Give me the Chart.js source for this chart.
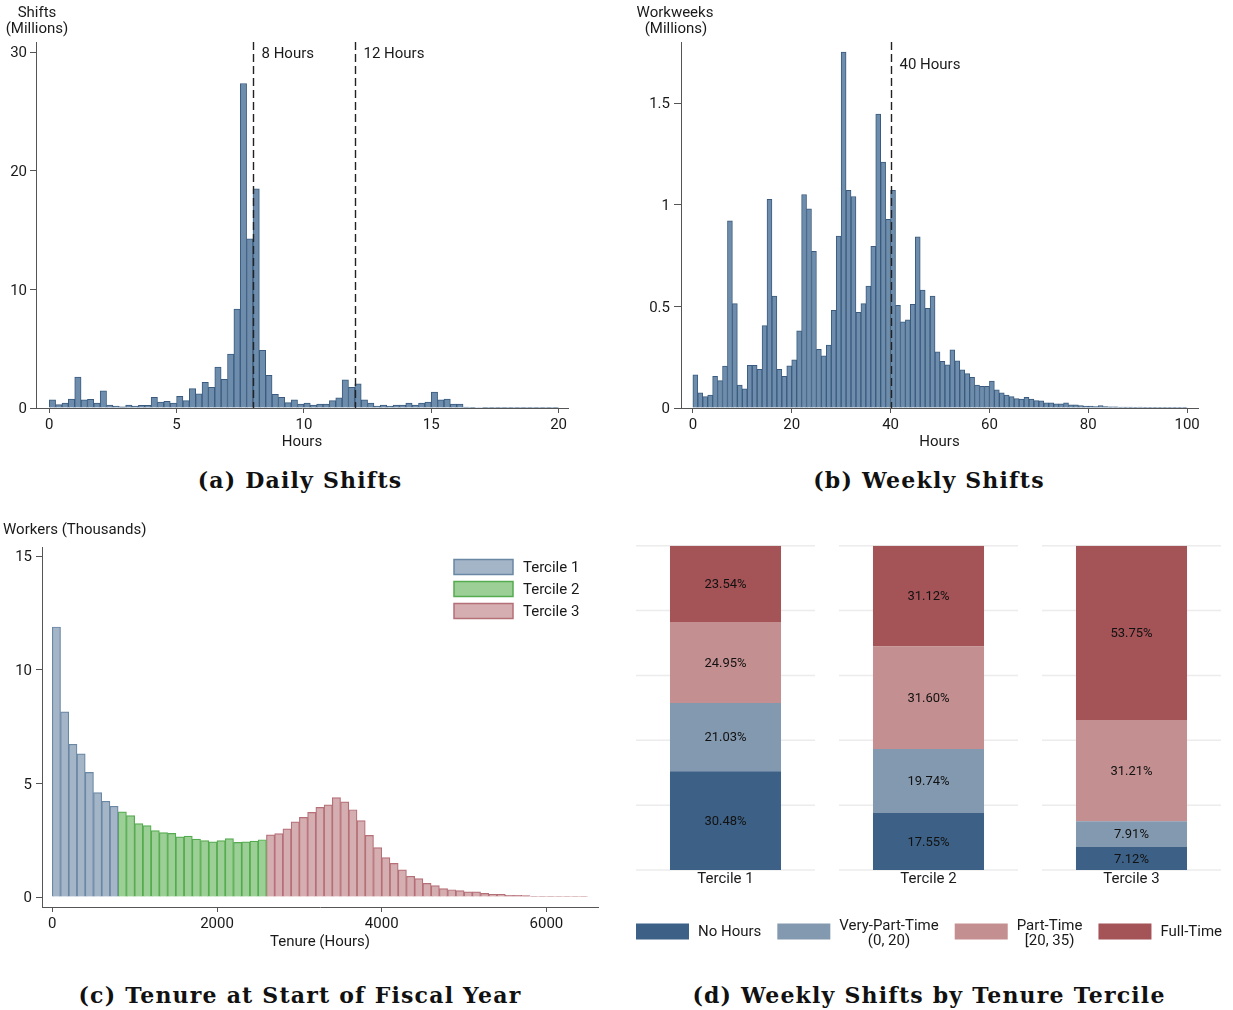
<!DOCTYPE html>
<html>
<head>
<meta charset="utf-8">
<title>Shifts and Tenure</title>
<script src="https://cdn.jsdelivr.net/npm/chart.js@4.4.1/dist/chart.umd.min.js"></script>
<style>
  body { margin: 0; background: #fff; }
  #page { position: relative; width: 1233px; height: 1010px; overflow: hidden; }
  canvas { position: absolute; }
  .cap {
    position: absolute; width: 600px; line-height: 26px; text-align: center;
    font-family: 'DejaVu Serif', serif; font-weight: bold; font-size: 22px;
    letter-spacing: 1.2px; color: #111;
  }
</style>
</head>
<body>
<div id="page">
  <canvas id="dailyChart" style="left:0;top:0" width="600" height="460"></canvas>
  <canvas id="weeklyChart" style="left:620px;top:0" width="613" height="460"></canvas>
  <canvas id="tenureChart" style="left:0;top:500px" width="615" height="460"></canvas>
  <canvas id="tercileChart" style="left:624px;top:500px" width="609" height="470"></canvas>
  <div class="cap" style="left:0;top:467px">(a) Daily Shifts</div>
  <div class="cap" style="left:629px;top:467px">(b) Weekly Shifts</div>
  <div class="cap" style="left:0;top:982px">(c) Tenure at Start of Fiscal Year</div>
  <div class="cap" style="left:629px;top:982px">(d) Weekly Shifts by Tenure Tercile</div>
</div>

<script>
// Panel (a): daily shifts, 0.25 hour bins from 0 to 20 (millions)
const dailyBinWidth = 0.25;
const dailyShifts = [
  0.68, 0.28, 0.42, 0.76, 2.6, 0.68, 0.73, 0.42, 1.44, 0.25,
  0.17, 0.1, 0.25, 0.17, 0.22, 0.22, 0.9, 0.5, 0.56, 0.42,
  0.98, 0.62, 1.63, 1.2, 2.17, 1.75, 3.44, 2.42, 4.54, 8.34,
  27.35, 14.25, 18.48, 4.87, 2.76, 1.15, 0.9, 0.45, 0.68, 0.34,
  0.42, 0.25, 0.34, 0.34, 0.62, 0.85, 2.37, 1.75, 2.03, 0.68,
  0.42, 0.17, 0.25, 0.17, 0.25, 0.25, 0.42, 0.25, 0.42, 0.5,
  1.35, 0.68, 0.76, 0.34, 0.34, 0.08, 0.05, 0.04, 0.03, 0.03,
  0.03, 0.02, 0.02, 0.02, 0.02, 0.02, 0.01, 0.01, 0.01, 0.01
];
const dailyXTicks = [0, 5, 10, 15, 20];
const dailyYTicks = [0, 10, 20, 30];
const dailyMarkers = [8, 12];
const dailyMarkerLabels = ['8 Hours', '12 Hours'];

// Panel (b): weekly shifts, 1 hour bins from 0 to 100 (millions)
const weeklyBinWidth = 1;
const weeklyShifts = [
  0.163, 0.074, 0.056, 0.064, 0.156, 0.135, 0.206, 0.92, 0.513, 0.113,
  0.094, 0.21, 0.21, 0.19, 0.405, 1.026, 0.55, 0.19, 0.156, 0.207,
  0.237, 0.38, 1.05, 0.98, 0.77, 0.288, 0.257, 0.31, 0.48, 0.845,
  1.75, 1.07, 1.04, 0.47, 0.513, 0.6, 0.795, 1.446, 1.21, 0.928,
  1.07, 0.505, 0.424, 0.434, 0.51, 0.842, 0.58, 0.49, 0.55, 0.276,
  0.229, 0.212, 0.286, 0.232, 0.188, 0.169, 0.151, 0.113, 0.107, 0.107,
  0.133, 0.089, 0.074, 0.064, 0.056, 0.046, 0.044, 0.053, 0.044, 0.036,
  0.035, 0.026, 0.025, 0.02, 0.02, 0.025, 0.016, 0.015, 0.012, 0.01,
  0.01, 0.007, 0.012, 0.007, 0.006, 0.006, 0.005, 0.004, 0.004, 0.003,
  0.005, 0.003, 0.003, 0.002, 0.002, 0.002, 0.002, 0.002, 0.001, 0.001
];
const weeklyXTicks = [0, 20, 40, 60, 80, 100];
const weeklyYTicks = [0, 0.5, 1, 1.5];
const weeklyMarkers = [40];
const weeklyMarkerLabels = ['40 Hours'];

// Panel (c): tenure at start of fiscal year, 100 hour bins (thousands of workers)
const tenureBinWidth = 100;
const tercileNames = ['Tercile 1', 'Tercile 2', 'Tercile 3'];
const tercileStarts = [0, 800, 2600];
const tenureTercile1 = [11.88, 8.15, 6.72, 6.3, 5.48, 4.59, 4.21, 3.99];
const tenureTercile2 = [3.75, 3.58, 3.23, 3.14, 2.92, 2.83, 2.8, 2.65, 2.68, 2.55,
  2.48, 2.43, 2.48, 2.57, 2.4, 2.43, 2.46, 2.52];
const tenureTercile3 = [2.73, 2.79, 3.0, 3.31, 3.5, 3.72, 3.94, 4.05, 4.37, 4.19,
  3.84, 3.36, 2.71, 2.17, 1.73, 1.48, 1.19, 0.91, 0.81, 0.6,
  0.5, 0.37, 0.32, 0.28, 0.23, 0.23, 0.16, 0.12, 0.12, 0.07,
  0.07, 0.06, 0.03, 0.03, 0.03, 0.02, 0.02, 0.02, 0.02];
const tenureXTicks = [0, 2000, 4000, 6000];
const tenureYTicks = [0, 5, 10, 15];

// Panel (d): weekly hours category shares by tenure tercile (percent)
const hourGroups = ['No Hours', 'Very-Part-Time\n(0, 20)', 'Part-Time\n[20, 35)', 'Full-Time'];
const shareNoHours = [30.48, 17.55, 7.12];
const shareVeryPartTime = [21.03, 19.74, 7.91];
const sharePartTime = [24.95, 31.60, 31.21];
const shareFullTime = [23.54, 31.12, 53.75];
const shareGrid = [0, 20, 40, 60, 80, 100];

// Styling
const axisGray = '#555555';
const textColor = '#1a1a1a';
const histFill = '#6e8dac';
const histBorder = '#3a5b7e';
const tercileFill = ['#a4b5c7', '#9bcf96', '#d5aeb1'];
const tercileBorder = ['#6a87a4', '#55ab4f', '#b56f77'];
const groupColors = ['#3d6186', '#8399b0', '#c48f90', '#a45357'];

Chart.defaults.font.family = "Roboto, 'Noto Sans', sans-serif";
Chart.defaults.font.size = 15;
Chart.defaults.color = textColor;

const fixedTicks = list => scale => { scale.ticks = list.map(v => ({ value: v })); };

function histogramScales(o) {
  return {
    x: {
      type: 'linear', min: o.xMin, max: o.xMax, offset: false,
      afterFit: s => { s.height = o.xHeight; },
      afterBuildTicks: fixedTicks(o.xTicks),
      grid: { drawOnChartArea: false, offset: false, tickLength: 5, color: axisGray },
      border: { color: axisGray, width: 1 },
      ticks: { padding: 3, callback: v => String(v), maxRotation: 0 },
      title: { display: true, text: o.xTitle, padding: { top: 0, bottom: 9 } }
    },
    y: {
      min: o.yMin, max: o.yMax,
      afterFit: s => { s.width = o.yWidth; },
      afterBuildTicks: fixedTicks(o.yTicks),
      grid: { drawOnChartArea: false, tickLength: o.yTick, color: axisGray },
      border: { color: axisGray, width: 1 },
      ticks: { padding: o.yPad, labelOffset: 1.5, callback: v => String(v) }
    }
  };
}

// Text placed around the plot (axis headings above the y axis)
function notesPlugin(notes) {
  return {
    id: 'notes',
    afterDraw(chart) {
      const { ctx, chartArea } = chart;
      ctx.save();
      ctx.fillStyle = textColor;
      ctx.font = "15px Roboto, 'Noto Sans', sans-serif";
      ctx.textBaseline = 'middle';
      notes.forEach(n => {
        ctx.textAlign = n.align || 'center';
        const x = n.abs ? n.dx : chartArea.left + n.dx;
        ctx.fillText(n.text, x, chartArea.top + n.dy);
      });
      ctx.restore();
    }
  };
}

// Dashed reference lines at given hours
function markersPlugin(values, labels, labelDy) {
  return {
    id: 'markers',
    afterDatasetsDraw(chart) {
      const { ctx, chartArea, scales: { x } } = chart;
      ctx.save();
      values.forEach((v, i) => {
        const px = Math.round(x.getPixelForValue(v)) + 0.5;
        ctx.strokeStyle = '#222';
        ctx.lineWidth = 1.4;
        ctx.setLineDash([8, 4]);
        ctx.beginPath();
        ctx.moveTo(px, chartArea.top);
        ctx.lineTo(px, chartArea.bottom);
        ctx.stroke();
        ctx.setLineDash([]);
        ctx.fillStyle = textColor;
        ctx.font = "15px Roboto, 'Noto Sans', sans-serif";
        ctx.textAlign = 'left';
        ctx.textBaseline = 'middle';
        ctx.fillText(labels[i], px + 8, chartArea.top + labelDy);
      });
      ctx.restore();
    }
  };
}

const histDataset = (binWidth, values) => ({
  data: values.map((v, i) => ({ x: i * binWidth + binWidth / 2, y: v })),
  backgroundColor: histFill,
  borderColor: histBorder,
  borderWidth: 1,
  barPercentage: 1,
  categoryPercentage: 1
});

const baseOptions = {
  responsive: false,
  animation: false,
  events: [],
  plugins: { legend: { display: false }, tooltip: { enabled: false } }
};

// (a) Daily Shifts
new Chart(document.getElementById('dailyChart'), {
  type: 'bar',
  data: { datasets: [histDataset(dailyBinWidth, dailyShifts)] },
  options: {
    ...baseOptions,
    layout: { padding: { top: 42, right: 32, left: 0, bottom: 0 } },
    scales: histogramScales({
      xMin: -0.52, xMax: 20.37, xHeight: 52, xTicks: dailyXTicks, xTitle: 'Hours',
      yMin: 0, yMax: 30.85, yWidth: 36, yTicks: dailyYTicks, yTick: 6, yPad: 3
    })
  },
  plugins: [
    markersPlugin(dailyMarkers, dailyMarkerLabels, 12),
    notesPlugin([
      { text: 'Shifts', dx: 1, dy: -29 },
      { text: '(Millions)', dx: 1, dy: -13 }
    ])
  ]
});

// (b) Weekly Shifts
new Chart(document.getElementById('weeklyChart'), {
  type: 'bar',
  data: { datasets: [histDataset(weeklyBinWidth, weeklyShifts)] },
  options: {
    ...baseOptions,
    layout: { padding: { top: 42, right: 35, left: 0, bottom: 0 } },
    scales: histogramScales({
      xMin: -2.4, xMax: 102.2, xHeight: 52, xTicks: weeklyXTicks, xTitle: 'Hours',
      yMin: 0, yMax: 1.8, yWidth: 61, yTicks: weeklyYTicks, yTick: 7, yPad: 4
    })
  },
  plugins: [
    markersPlugin(weeklyMarkers, weeklyMarkerLabels, 23),
    notesPlugin([
      { text: 'Workweeks', dx: -6, dy: -29 },
      { text: '(Millions)', dx: -5, dy: -13 }
    ])
  ]
});

// (c) Tenure at Start of Fiscal Year
const tenureSeries = [tenureTercile1, tenureTercile2, tenureTercile3];
const tenureLegend = {
  id: 'tenureLegend',
  afterDraw(chart) {
    const { ctx, chartArea } = chart;
    ctx.save();
    ctx.font = "15px Roboto, 'Noto Sans', sans-serif";
    ctx.textBaseline = 'middle';
    ctx.textAlign = 'left';
    tercileNames.forEach((name, i) => {
      const bx = chartArea.right - 144;
      const cy = chartArea.top + 20 + 22 * i;
      ctx.fillStyle = tercileFill[i];
      ctx.strokeStyle = tercileBorder[i];
      ctx.lineWidth = 1.5;
      ctx.fillRect(bx, cy - 7.5, 59, 15);
      ctx.strokeRect(bx, cy - 7.5, 59, 15);
      ctx.fillStyle = textColor;
      ctx.fillText(name, bx + 69, cy + 1);
    });
    ctx.restore();
  }
};

new Chart(document.getElementById('tenureChart'), {
  type: 'bar',
  data: {
    datasets: tenureSeries.map((values, t) => ({
      label: tercileNames[t],
      data: values.map((v, i) => ({ x: tercileStarts[t] + i * tenureBinWidth + tenureBinWidth / 2, y: v })),
      backgroundColor: tercileFill[t],
      borderColor: tercileBorder[t],
      borderWidth: 1.2,
      grouped: false,
      barPercentage: 1,
      categoryPercentage: 1
    }))
  },
  options: {
    ...baseOptions,
    layout: { padding: { top: 47, right: 17, left: 0, bottom: 0 } },
    scales: histogramScales({
      xMin: -125, xMax: 6626, xHeight: 53, xTicks: tenureXTicks, xTitle: 'Tenure (Hours)',
      yMin: -0.44, yMax: 15.4, yWidth: 42, yTicks: tenureYTicks, yTick: 6, yPad: 4
    })
  },
  plugins: [
    tenureLegend,
    notesPlugin([{ text: 'Workers (Thousands)', dx: 3, dy: -17, align: 'left', abs: true }])
  ]
});

// (d) Weekly Shifts by Tenure Tercile
const shareSeries = [shareNoHours, shareVeryPartTime, sharePartTime, shareFullTime];

const facetGrid = {
  id: 'facetGrid',
  beforeDatasetsDraw(chart) {
    const { ctx, scales: { x, y } } = chart;
    const half = (x.width / tercileNames.length) * 0.441;
    ctx.save();
    ctx.strokeStyle = '#ececec';
    ctx.lineWidth = 1.5;
    tercileNames.forEach((_, i) => {
      const cx = x.getPixelForValue(i);
      shareGrid.forEach(v => {
        const py = y.getPixelForValue(v);
        ctx.beginPath();
        ctx.moveTo(cx - half, py);
        ctx.lineTo(cx + half, py);
        ctx.stroke();
      });
    });
    ctx.restore();
  }
};

const shareLabels = {
  id: 'shareLabels',
  afterDatasetsDraw(chart) {
    const { ctx } = chart;
    ctx.save();
    ctx.fillStyle = '#111';
    ctx.font = "13px Roboto, 'Noto Sans', sans-serif";
    ctx.textAlign = 'center';
    ctx.textBaseline = 'middle';
    chart.data.datasets.forEach((ds, di) => {
      chart.getDatasetMeta(di).data.forEach((bar, i) => {
        const p = bar.getProps(['x', 'y', 'base'], true);
        ctx.fillText(ds.data[i].toFixed(2) + '%', p.x, (p.y + p.base) / 2 + 1);
      });
    });
    ctx.restore();
  }
};

const shareLegend = {
  id: 'shareLegend',
  afterDraw(chart) {
    const { ctx, chartArea } = chart;
    ctx.save();
    ctx.font = "15px Roboto, 'Noto Sans', sans-serif";
    ctx.textBaseline = 'middle';
    ctx.textAlign = 'center';
    let x = chartArea.left + 12;
    const cy = chartArea.bottom + 61.5;
    hourGroups.forEach((label, i) => {
      const lines = label.split('\n');
      ctx.fillStyle = groupColors[i];
      ctx.fillRect(x, cy - 8, 53, 16);
      const tx = x + 53 + 9;
      const w = Math.max(...lines.map(l => ctx.measureText(l).width));
      ctx.fillStyle = textColor;
      if (lines.length === 1) {
        ctx.fillText(lines[0], tx + w / 2, cy + 1);
      } else {
        ctx.fillText(lines[0], tx + w / 2, cy - 5);
        ctx.fillText(lines[1], tx + w / 2, cy + 9.5);
      }
      x = tx + w + 16;
    });
    ctx.restore();
  }
};

new Chart(document.getElementById('tercileChart'), {
  type: 'bar',
  data: {
    labels: tercileNames,
    datasets: shareSeries.map((values, g) => ({
      label: hourGroups[g],
      data: values,
      backgroundColor: groupColors[g],
      borderWidth: 0,
      categoryPercentage: 1,
      barPercentage: 0.547
    }))
  },
  options: {
    ...baseOptions,
    layout: { padding: { top: 45.7, right: 0, left: 0, bottom: 0 } },
    scales: {
      x: {
        stacked: true,
        afterFit: s => { s.height = 100; },
        grid: { display: false, drawTicks: false },
        border: { display: false },
        ticks: { padding: 0, color: textColor, font: { size: 15 } }
      },
      y: { stacked: true, display: false, min: 0, max: 100 }
    }
  },
  plugins: [facetGrid, shareLabels, shareLegend]
});
</script>
</body>
</html>
